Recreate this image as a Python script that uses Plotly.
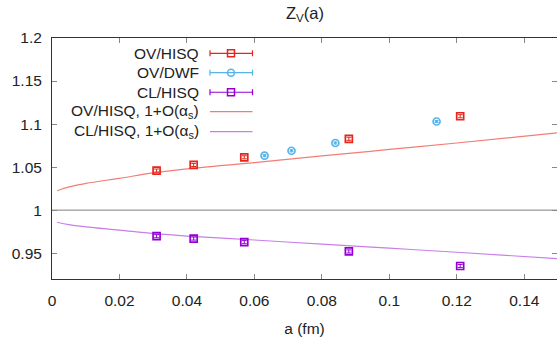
import plotly.graph_objects as go

# ---- data ----
a_hisq = [0.031, 0.042, 0.057, 0.088, 0.121]
zv_ov_hisq = [1.046, 1.0525, 1.0614, 1.0829, 1.1091]
err_ov_hisq = [0.0018, 0.0018, 0.0018, 0.0018, 0.0018]

a_dwf = [0.063, 0.071, 0.084, 0.114]
zv_ov_dwf = [1.0633, 1.069, 1.078, 1.103]
err_ov_dwf = [0.0012, 0.0012, 0.0012, 0.0012]

zv_cl_hisq = [0.9697, 0.967, 0.9628, 0.952, 0.9351]
err_cl_hisq = [0.0018, 0.0018, 0.0018, 0.0018, 0.0018]

a_curve = [0.0015, 0.005, 0.01, 0.02, 0.03, 0.04, 0.06, 0.08, 0.10, 0.12, 0.15]
ov_curve = [1.0225, 1.027, 1.031, 1.037, 1.0432, 1.048, 1.0553, 1.063, 1.0705, 1.078, 1.090]
cl_curve = [0.9859, 0.9831, 0.9806, 0.9768, 0.9729, 0.9699, 0.9653, 0.9605, 0.9558, 0.9511, 0.9436]

ref_level = 1.0
x_ticks = [0, 0.02, 0.04, 0.06, 0.08, 0.1, 0.12, 0.14]
x_tick_text = ["0", "0.02", "0.04", "0.06", "0.08", "0.1", "0.12", "0.14"]
y_ticks = [0.95, 1.0, 1.05, 1.1, 1.15, 1.2]
y_tick_text = ["0.95", "1", "1.05", "1.1", "1.15", "1.2"]

legend_labels = ["OV/HISQ", "OV/DWF", "CL/HISQ",
                 "OV/HISQ, 1+O(α<sub>s</sub>)", "CL/HISQ, 1+O(α<sub>s</sub>)"]

RED = "#e5261c"
BLUE = "#56b4e9"
PURPLE = "#9400d3"
RED_LINE = "#f27d76"
PURPLE_LINE = "#c97ee9"
FONT = "Liberation Sans, Arial, sans-serif"
FS = 15.5

fig = go.Figure()

fig.add_trace(go.Scatter(x=a_curve, y=ov_curve, mode="lines", line=dict(color=RED_LINE, width=1.2, shape="spline"),
                         showlegend=False))
fig.add_trace(go.Scatter(x=a_curve, y=cl_curve, mode="lines", line=dict(color=PURPLE_LINE, width=1.2, shape="spline"),
                         showlegend=False))

fig.add_trace(go.Scatter(x=a_hisq, y=zv_ov_hisq, mode="markers",
                         marker=dict(symbol="square-open", size=7, color=RED, line=dict(width=1.7, color=RED)),
                         error_y=dict(type="data", array=err_ov_hisq, color=RED, thickness=1, width=2.5),
                         showlegend=False))
fig.add_trace(go.Scatter(x=a_dwf, y=zv_ov_dwf, mode="markers",
                         marker=dict(symbol="circle-open-dot", size=7, color=BLUE, line=dict(width=1.7, color=BLUE)),
                         error_y=dict(type="data", array=err_ov_dwf, color=BLUE, thickness=1, width=2),
                         showlegend=False))
fig.add_trace(go.Scatter(x=a_hisq, y=zv_cl_hisq, mode="markers",
                         marker=dict(symbol="square-open", size=7, color=PURPLE, line=dict(width=1.7, color=PURPLE)),
                         error_y=dict(type="data", array=err_cl_hisq, color=PURPLE, thickness=1, width=2.5),
                         showlegend=False))

# horizontal reference line at 1
fig.add_shape(type="line", xref="x domain", yref="y", x0=0, x1=1, y0=ref_level, y1=ref_level,
              line=dict(color="#808080", width=1), layer="below")

# ---- custom gnuplot-style legend ----
L, R_, T, B = 52, 557, 38, 279.3
W, H = R_ - L, B - T
def px(x):
    return (x - L) / W
def py(y):
    return (B - y) / H

rows = [53.3, 72.7, 92.3, 111.7, 131.7]
text_right = px(201)
line_x0, line_x1, mark_x = px(210), px(252.5), px(231)
styles = [(RED, "square"), (BLUE, "circle"), (PURPLE, "square"), (RED_LINE, None), (PURPLE_LINE, None)]
for lab, yy, (col, mk) in zip(legend_labels, rows, styles):
    yp = py(yy)
    fig.add_annotation(x=text_right, y=yp, xref="paper", yref="paper", text=lab, showarrow=False,
                       xanchor="right", yanchor="middle", font=dict(size=FS, color="#222", family=FONT))
    fig.add_shape(type="line", xref="paper", yref="paper", x0=line_x0, x1=line_x1, y0=yp, y1=yp,
                  line=dict(color=col, width=1.2))
    if mk:
        for xc in (line_x0, line_x1):
            fig.add_shape(type="line", xref="paper", yref="paper", xsizemode="scaled",
                          ysizemode="pixel", yanchor=yp, x0=xc, x1=xc, y0=-3, y1=3,
                          line=dict(color=col, width=1.2))
        fig.add_shape(type="rect" if mk == "square" else "circle", xref="paper", yref="paper",
                      xsizemode="pixel", ysizemode="pixel", xanchor=mark_x, yanchor=yp,
                      x0=-3.5, x1=3.5, y0=-3.5, y1=3.5, line=dict(color=col, width=1.5),
                      fillcolor="rgba(0,0,0,0)")

fig.update_layout(
    width=557, height=347,
    margin=dict(l=52, r=0, t=38, b=347 - 279),
    plot_bgcolor="white", paper_bgcolor="white",
    font=dict(family=FONT, size=FS, color="#222"),
    title=dict(text="Z<sub>V</sub>(a)", x=305 / 557, xanchor="center", y=1 - 13 / 347, yanchor="middle",
               font=dict(size=16.5, family=FONT, color="#222")),
    showlegend=False,
    xaxis=dict(range=[0, 0.1497], tickvals=x_ticks, ticktext=x_tick_text, ticks="inside", ticklen=5,
               tickcolor="#888", showline=True, linecolor="#333", linewidth=1, mirror="ticks",
               showgrid=False, zeroline=False, ticklabelstandoff=7, tickfont=dict(size=FS),
               title=dict(text="a (fm)", standoff=15, font=dict(size=FS))),
    yaxis=dict(range=[0.92, 1.2], tickvals=y_ticks, ticktext=y_tick_text, ticks="inside", ticklen=5,
               tickcolor="#888", showline=True, linecolor="#333", linewidth=1, mirror=False,
               showgrid=False, zeroline=False, ticklabelstandoff=6, tickfont=dict(size=FS)),
    yaxis2=dict(range=[0.92, 1.2], tickvals=y_ticks, overlaying="y", side="right", ticks="inside", ticklen=5,
                tickcolor="#888", showticklabels=False, showline=False, showgrid=False, zeroline=False),
)
fig.add_trace(go.Scatter(x=[None], y=[None], yaxis="y2", showlegend=False, hoverinfo="skip"))

fig.write_html("out.html")
